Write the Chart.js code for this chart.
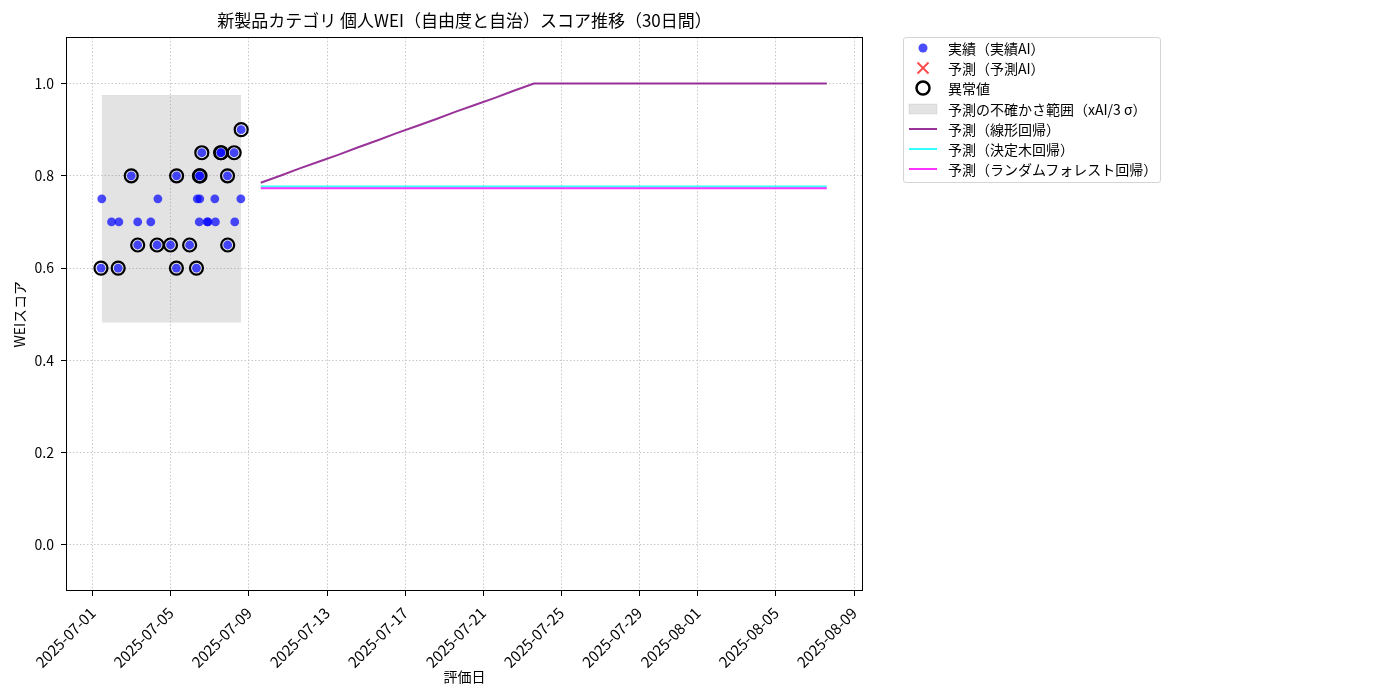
<!DOCTYPE html>
<html lang="ja">
<head>
<meta charset="utf-8">
<script src="https://cdn.jsdelivr.net/npm/chart.js@4.4.1/dist/chart.umd.min.js"></script>
<style>
html, body { margin: 0; padding: 0; background: #fff; }
#wrap { position: relative; width: 1400px; height: 700px; }
#legend {
    position: absolute; left: 903px; top: 37px; width: 258px; height: 146px;
    border: 1px solid #d4d4d4; border-radius: 3px; box-sizing: border-box; background: #fff;
    font-family: 'Noto Sans CJK JP', sans-serif; font-size: 14px; color: #000;
}
.row { position: absolute; left: 0; height: 20px; display: flex; align-items: center; white-space: nowrap; }
.row svg { width: 30px; height: 20px; margin-left: 4px; margin-right: 10px; }
</style>
</head>
<body>
<div id="wrap">
    <canvas id="chart" width="1400" height="700"></canvas>
    <div id="legend"></div>
</div>
<script>
// 图表数据
const chartTitle = '新製品カテゴリ 個人WEI（自由度と自治）スコア推移（30日間）'
const xAxisTitle = '評価日'
const yAxisTitle = 'WEIスコア'

const xTickLabels = ['2025-07-01', '2025-07-05', '2025-07-09', '2025-07-13', '2025-07-17', '2025-07-21',
    '2025-07-25', '2025-07-29', '2025-08-01', '2025-08-05', '2025-08-09']
const yTickValues = [0.0, 0.2, 0.4, 0.6, 0.8, 1.0]
const xRange = ['2025-06-29 15:00', '2025-08-09 11:00']
const yRange = [-0.1, 1.1]

// 実績（実績AI）
const actualDates = [
    '2025-07-01 10:00', '2025-07-01 11:00', '2025-07-01 23:00', '2025-07-02 07:10', '2025-07-02 08:00',
    '2025-07-02 23:15', '2025-07-03 07:10', '2025-07-03 07:10', '2025-07-03 23:15', '2025-07-04 07:00',
    '2025-07-04 08:00', '2025-07-04 23:30', '2025-07-05 06:45', '2025-07-05 07:00', '2025-07-05 23:00',
    '2025-07-06 07:25', '2025-07-06 08:25', '2025-07-06 10:50', '2025-07-06 11:30', '2025-07-06 11:00',
    '2025-07-06 11:50', '2025-07-06 14:00', '2025-07-06 20:30', '2025-07-06 21:40', '2025-07-07 06:00',
    '2025-07-07 06:45', '2025-07-07 13:10', '2025-07-07 13:50', '2025-07-07 21:35', '2025-07-07 21:50',
    '2025-07-08 05:45', '2025-07-08 06:30', '2025-07-08 14:00', '2025-07-08 14:25'
]
const actualScores = [
    0.60, 0.75, 0.70, 0.60, 0.70,
    0.80, 0.70, 0.65, 0.70, 0.65,
    0.75, 0.65, 0.60, 0.80, 0.65,
    0.60, 0.75, 0.70, 0.75, 0.80,
    0.80, 0.85, 0.70, 0.70, 0.75,
    0.70, 0.85, 0.85, 0.80, 0.65,
    0.85, 0.70, 0.75, 0.90
]
// 異常値フラグ
const outlierFlags = [
    1, 0, 0, 1, 0,
    1, 0, 1, 0, 1,
    0, 1, 1, 1, 1,
    1, 0, 0, 0, 1,
    1, 1, 0, 0, 0,
    0, 1, 1, 1, 1,
    1, 0, 0, 1
]

// 予測の不確かさ範囲
const bandDates = ['2025-07-01 11:00', '2025-07-08 14:25']
const bandLow = 0.482
const bandHigh = 0.974

// 予測（30日間）
const forecastDates = [
    '2025-07-09 14:25', '2025-07-10 14:25', '2025-07-11 14:25', '2025-07-12 14:25', '2025-07-13 14:25',
    '2025-07-14 14:25', '2025-07-15 14:25', '2025-07-16 14:25', '2025-07-17 14:25', '2025-07-18 14:25',
    '2025-07-19 14:25', '2025-07-20 14:25', '2025-07-21 14:25', '2025-07-22 14:25', '2025-07-23 14:25',
    '2025-07-24 14:25', '2025-07-25 14:25', '2025-07-26 14:25', '2025-07-27 14:25', '2025-07-28 14:25',
    '2025-07-29 14:25', '2025-07-30 14:25', '2025-07-31 14:25', '2025-08-01 14:25', '2025-08-02 14:25',
    '2025-08-03 14:25', '2025-08-04 14:25', '2025-08-05 14:25', '2025-08-06 14:25', '2025-08-07 14:25'
]
const linearPred = [
    0.785, 0.800, 0.816, 0.831, 0.846, 0.862, 0.877, 0.893, 0.908, 0.923,
    0.939, 0.954, 0.969, 0.985, 1.000, 1.000, 1.000, 1.000, 1.000, 1.000,
    1.000, 1.000, 1.000, 1.000, 1.000, 1.000, 1.000, 1.000, 1.000, 1.000
]
const treePred = [
    0.777, 0.777, 0.777, 0.777, 0.777, 0.777, 0.777, 0.777, 0.777, 0.777,
    0.777, 0.777, 0.777, 0.777, 0.777, 0.777, 0.777, 0.777, 0.777, 0.777,
    0.777, 0.777, 0.777, 0.777, 0.777, 0.777, 0.777, 0.777, 0.777, 0.777
]
const forestPred = [
    0.773, 0.773, 0.773, 0.773, 0.773, 0.773, 0.773, 0.773, 0.773, 0.773,
    0.773, 0.773, 0.773, 0.773, 0.773, 0.773, 0.773, 0.773, 0.773, 0.773,
    0.773, 0.773, 0.773, 0.773, 0.773, 0.773, 0.773, 0.773, 0.773, 0.773
]

const FONT = "'Noto Sans CJK JP', sans-serif"
const BASE = Date.UTC(2025, 6, 1)

function toDay(s) { // 日付文字列 -> 2025-07-01 からの日数
    const [d, t] = s.split(' ')
    const [Y, M, D] = d.split('-').map(Number)
    let h = 0, m = 0
    if (t) [h, m] = t.split(':').map(Number)
    return (Date.UTC(Y, M - 1, D, h, m) - BASE) / 86400000
}

function pairs(dates, values) {
    return dates.map((d, i) => ({x: toDay(d), y: values[i]}))
}

const actualPts = pairs(actualDates, actualScores)
const outlierPts = actualPts.filter((p, i) => outlierFlags[i] === 1)

const frame = { // 枠線
    id: 'frame',
    afterDraw(chart) {
        const a = chart.chartArea
        const ctx = chart.ctx
        ctx.save()
        ctx.strokeStyle = '#000'
        ctx.lineWidth = 1
        ctx.strokeRect(Math.round(a.left) + 0.5, Math.round(a.top) + 0.5,
            Math.round(a.width) - 1, Math.round(a.height) - 1)
        ctx.restore()
    }
}

const gridOpts = {
    color: '#c8c8c8', lineWidth: 1,
    tickColor: '#000', tickLength: 5, tickWidth: 1, tickBorderDash: []
}

new Chart(document.getElementById('chart'), {
    data: {
        datasets: [
            {
                type: 'scatter', label: '異常値', order: 0,
                data: outlierPts,
                pointRadius: 6.5, pointBorderWidth: 2.2,
                pointBorderColor: '#000', pointBackgroundColor: 'rgba(0,0,0,0)'
            },
            {
                type: 'scatter', label: '実績（実績AI）', order: 1,
                data: actualPts,
                pointRadius: 4.4, pointBorderWidth: 0,
                pointBackgroundColor: 'rgba(0,0,255,0.7)', pointBorderColor: 'rgba(0,0,0,0)'
            },
            {
                type: 'line', label: '予測（ランダムフォレスト回帰）', order: 2,
                data: pairs(forecastDates, forestPred),
                borderColor: 'rgba(255,0,255,0.8)', borderWidth: 2, pointRadius: 0, tension: 0
            },
            {
                type: 'line', label: '予測（決定木回帰）', order: 3,
                data: pairs(forecastDates, treePred),
                borderColor: 'rgba(0,255,255,0.8)', borderWidth: 2, pointRadius: 0, tension: 0
            },
            {
                type: 'line', label: '予測（線形回帰）', order: 4,
                data: pairs(forecastDates, linearPred),
                borderColor: 'rgba(128,0,128,0.8)', borderWidth: 2, pointRadius: 0, tension: 0
            },
            {
                type: 'line', label: '予測の不確かさ範囲（xAI/3σ）', order: 5,
                data: pairs(bandDates, [bandHigh, bandHigh]),
                borderColor: 'rgba(128,128,128,0.15)', borderWidth: 1, pointRadius: 0,
                backgroundColor: 'rgba(128,128,128,0.22)',
                fill: {value: bandLow}
            }
        ]
    },
    options: {
        responsive: false,
        animation: false,
        devicePixelRatio: 1,
        layout: {padding: {left: 0, right: 537, top: 0, bottom: 0}},
        plugins: {
            legend: {display: false},
            tooltip: {enabled: false},
            title: {
                display: true, text: chartTitle, color: '#000', fullSize: false,
                font: {family: FONT, size: 17, weight: 'normal'},
                padding: {top: 10, bottom: 7}
            }
        },
        scales: {
            x: {
                type: 'linear',
                min: toDay(xRange[0]), max: toDay(xRange[1]),
                afterBuildTicks: scale => {
                    scale.ticks = xTickLabels.map(s => ({value: toDay(s)}))
                },
                afterFit: scale => {
                    scale.height = 109
                    scale.paddingLeft = 0
                    scale.paddingRight = 0
                },
                ticks: {
                    autoSkip: false, maxRotation: 45, minRotation: 45,
                    color: '#000', padding: 8,
                    font: {family: FONT, size: 15},
                    callback: (v, i) => xTickLabels[i]
                },
                grid: gridOpts,
                border: {display: false, dash: [1.5, 2]},
                title: {
                    display: true, text: xAxisTitle, color: '#000',
                    font: {family: FONT, size: 14},
                    padding: {top: 0, bottom: 15}
                }
            },
            y: {
                type: 'linear',
                min: yRange[0], max: yRange[1],
                afterBuildTicks: scale => {
                    scale.ticks = yTickValues.map(v => ({value: v}))
                },
                afterFit: scale => {
                    scale.width = 66
                },
                ticks: {
                    color: '#000', padding: 7,
                    font: {family: FONT, size: 14},
                    callback: v => v.toFixed(1)
                },
                grid: gridOpts,
                border: {display: false, dash: [1.5, 2]},
                title: {
                    display: true, text: yAxisTitle, color: '#000',
                    font: {family: FONT, size: 14},
                    padding: {top: 11, bottom: 0}
                }
            }
        }
    },
    plugins: [frame]
})

// 凡例
const legendItems = [
    {label: '実績（実績AI）', svg: '<circle cx="15" cy="10" r="4.5" fill="rgba(0,0,255,0.7)"/>'},
    {label: '予測（予測AI）', svg: '<path d="M9.5 4.5 L20.5 15.5 M20.5 4.5 L9.5 15.5" stroke="rgba(255,0,0,0.7)" stroke-width="2"/>'},
    {label: '異常値', svg: '<circle cx="15" cy="10" r="6.5" fill="none" stroke="#000" stroke-width="2.5"/>'},
    {label: '予測の不確かさ範囲（xAI/3 σ）', svg: '<rect x="1" y="5" width="28" height="10" fill="rgba(128,128,128,0.22)" stroke="rgba(128,128,128,0.15)"/>'},
    {label: '予測（線形回帰）', svg: '<line x1="1" y1="10" x2="29" y2="10" stroke="rgba(128,0,128,0.8)" stroke-width="2"/>'},
    {label: '予測（決定木回帰）', svg: '<line x1="1" y1="10" x2="29" y2="10" stroke="rgba(0,255,255,0.8)" stroke-width="2"/>'},
    {label: '予測（ランダムフォレスト回帰）', svg: '<line x1="1" y1="10" x2="29" y2="10" stroke="rgba(255,0,255,0.8)" stroke-width="2"/>'}
]
const legendEl = document.getElementById('legend')
legendItems.forEach((item, i) => {
    const row = document.createElement('div')
    row.className = 'row'
    row.style.top = (0 + i * 20.2) + 'px'
    row.innerHTML = '<svg viewBox="0 0 30 20">' + item.svg + '</svg><span>' + item.label + '</span>'
    legendEl.appendChild(row)
})
</script>
</body>
</html>
